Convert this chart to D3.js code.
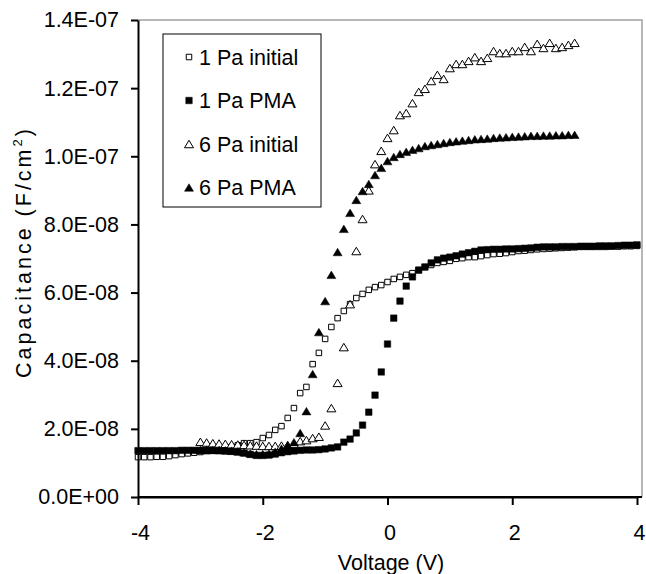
<!DOCTYPE html>
<html>
<head>
<meta charset="utf-8">
<script src="https://cdn.jsdelivr.net/npm/d3@7"></script>
<style>
  body { margin: 0; background: #fff; }
  svg { display: block; font-family: "Liberation Sans", Arial, sans-serif; }
</style>
</head>
<body>
<script>
// gate voltage sweep (V)
const voltsFull = [
  -4.0, -3.9, -3.8, -3.7, -3.6, -3.5, -3.4, -3.3, -3.2, -3.1,
  -3.0, -2.9, -2.8, -2.7, -2.6, -2.5, -2.4, -2.3, -2.2, -2.1,
  -2.0, -1.9, -1.8, -1.7, -1.6, -1.5, -1.4, -1.3, -1.2, -1.1,
  -1.0, -0.9, -0.8, -0.7, -0.6, -0.5, -0.4, -0.3, -0.2, -0.1,
  0.0, 0.1, 0.2, 0.3, 0.4, 0.5, 0.6, 0.7, 0.8, 0.9,
  1.0, 1.1, 1.2, 1.3, 1.4, 1.5, 1.6, 1.7, 1.8, 1.9,
  2.0, 2.1, 2.2, 2.3, 2.4, 2.5, 2.6, 2.7, 2.8, 2.9,
  3.0, 3.1, 3.2, 3.3, 3.4, 3.5, 3.6, 3.7, 3.8, 3.9,
  4.0
];
// the 6 Pa samples were only swept from -3 to 3 V
const volts6Pa = voltsFull.filter(v => v >= -3.001 && v <= 3.001);

// capacitance, in units of 1e-8 F/cm2
const cap1PaInitial = [
  1.17, 1.17, 1.17, 1.18, 1.18, 1.20, 1.23, 1.26, 1.28, 1.30,
  1.32, 1.35, 1.37, 1.40, 1.43, 1.47, 1.52, 1.58, 1.58, 1.61,
  1.73, 1.82, 1.97, 2.08, 2.32, 2.61, 3.05, 3.23, 3.90, 4.23,
  4.64, 4.99, 5.25, 5.46, 5.66, 5.84, 5.96, 6.08, 6.16, 6.22,
  6.31, 6.40, 6.46, 6.52, 6.57, 6.66, 6.75, 6.81, 6.87, 6.90,
  6.93, 6.99, 7.01, 7.04, 7.04, 7.07, 7.10, 7.13, 7.14, 7.16,
  7.19, 7.22, 7.23, 7.25, 7.27, 7.28, 7.29, 7.30, 7.31, 7.32,
  7.33, 7.34, 7.34, 7.34, 7.34, 7.34, 7.35, 7.35, 7.36, 7.36,
  7.37
];
const cap1PaPMA = [
  1.36, 1.36, 1.36, 1.36, 1.36, 1.36, 1.36, 1.37, 1.37, 1.37,
  1.37, 1.37, 1.37, 1.36, 1.35, 1.34, 1.32, 1.29, 1.25, 1.22,
  1.22, 1.23, 1.26, 1.30, 1.33, 1.35, 1.37, 1.38, 1.38, 1.39,
  1.41, 1.44, 1.47, 1.61, 1.70, 1.88, 2.11, 2.49, 2.99, 3.67,
  4.49, 5.25, 5.75, 6.19, 6.46, 6.66, 6.75, 6.87, 6.96, 7.01,
  7.04, 7.08, 7.13, 7.17, 7.21, 7.25, 7.26, 7.27, 7.27, 7.28,
  7.28, 7.29, 7.30, 7.31, 7.33, 7.34, 7.34, 7.34, 7.35, 7.35,
  7.35, 7.36, 7.36, 7.36, 7.37, 7.37, 7.37, 7.38, 7.39, 7.39,
  7.40
];
const cap6PaInitial = [
  1.62, 1.60, 1.58, 1.57, 1.56, 1.55, 1.54, 1.53, 1.52, 1.51,
  1.50, 1.50, 1.50, 1.51, 1.52, 1.56, 1.64, 1.67, 1.73, 1.77,
  2.10, 2.61, 3.35, 4.40, 5.66, 7.22, 8.16, 9.00, 9.77, 10.16,
  10.54, 10.77, 11.21, 11.27, 11.56, 11.89, 11.98, 12.21, 12.39, 12.27,
  12.59, 12.71, 12.71, 12.80, 12.91, 12.80, 12.89, 13.09, 13.03, 13.03,
  13.09, 13.09, 13.21, 13.09, 13.30, 13.18, 13.33, 13.18, 13.21, 13.27,
  13.33
];
const cap6PaPMA = [
  1.38, 1.38, 1.38, 1.38, 1.37, 1.36, 1.34, 1.31, 1.28, 1.26,
  1.26, 1.28, 1.33, 1.42, 1.52, 1.61, 1.88, 2.52, 3.61, 4.84,
  5.75, 6.52, 7.19, 7.87, 8.34, 8.72, 8.98, 9.19, 9.45, 9.66,
  9.86, 9.98, 10.07, 10.13, 10.19, 10.24, 10.30, 10.33, 10.36, 10.39,
  10.42, 10.44, 10.46, 10.48, 10.50, 10.51, 10.52, 10.54, 10.55, 10.56,
  10.57, 10.58, 10.59, 10.60, 10.60, 10.61, 10.61, 10.62, 10.62, 10.63,
  10.63
];
const capUnit = 1e-8;

const seriesNames = ['1 Pa initial', '1 Pa PMA', '6 Pa initial', '6 Pa PMA'];
const xTicks = [-4, -2, 0, 2, 4];
const yTicks = [0, 2e-8, 4e-8, 6e-8, 8e-8, 1e-7, 1.2e-7, 1.4e-7];

// series table (draw order = Excel series order)
const series = [
  { name: seriesNames[0], volts: voltsFull, caps: cap1PaInitial, shape: 'square', filled: false },
  { name: seriesNames[1], volts: voltsFull, caps: cap1PaPMA, shape: 'square', filled: true },
  { name: seriesNames[2], volts: volts6Pa, caps: cap6PaInitial, shape: 'triangle', filled: false },
  { name: seriesNames[3], volts: volts6Pa, caps: cap6PaPMA, shape: 'triangle', filled: true }
];

const W = 646, H = 574;
const plot = { left: 138, top: 20, right: 642, bottom: 497 };
const fontSize = 21.5;

const x = d3.scaleLinear().domain([-4, 4]).range([plot.left, 637]);
const y = d3.scaleLinear().domain([0, 1.4e-7]).range([plot.bottom, plot.top]);

const svg = d3.select('body').append('svg')
  .attr('width', W)
  .attr('height', H);

// marker shapes, roughly the Excel ones
function markerPath(shape, filled) {
  if (shape === 'square') {
    const s = filled ? 6.5 : 5.5;
    return d3.symbol(d3.symbolSquare, s * s)();
  }
  const w = 9, h = 7.5;
  return `M0,${-h / 2}L${w / 2},${h / 2}L${-w / 2},${h / 2}Z`;
}

// plot frame (grey top/right)
svg.append('path')
  .attr('d', `M${plot.left},${plot.top}H${plot.right}V${plot.bottom}`)
  .attr('fill', 'none')
  .attr('stroke', '#a0a0a0')
  .attr('stroke-width', 1.5);

// data
series.forEach(s => {
  const pts = s.volts.map((v, i) => ({ v: v, c: s.caps[i] * capUnit }));
  svg.append('g')
    .selectAll('path')
    .data(pts)
    .enter().append('path')
    .attr('d', markerPath(s.shape, s.filled))
    .attr('transform', d => `translate(${x(d.v)},${y(d.c)})`)
    .attr('fill', s.filled ? '#000' : '#fff')
    .attr('stroke', '#000')
    .attr('stroke-width', s.filled ? 0.5 : 1);
});

// E-notation like Excel: 1.4E-07
function sciFormat(v) {
  if (v === 0) return '0.0E+00';
  const e = Math.floor(Math.log10(Math.abs(v)) + 1e-9);
  const m = v / Math.pow(10, e);
  const sign = e < 0 ? '-' : '+';
  return m.toFixed(1) + 'E' + sign + String(Math.abs(e)).padStart(2, '0');
}

// y axis
const yAxis = svg.append('g')
  .attr('transform', `translate(${plot.left},0)`)
  .call(d3.axisLeft(y).tickValues(yTicks).tickFormat(sciFormat).tickSize(7).tickSizeOuter(0).tickPadding(12));

// x axis
const xAxis = svg.append('g')
  .attr('transform', `translate(0,${plot.bottom})`)
  .call(d3.axisBottom(x).tickValues(xTicks).tickFormat(d3.format('d')).tickSize(8).tickSizeOuter(0).tickPadding(20));

[yAxis, xAxis].forEach(g => {
  g.select('.domain').attr('stroke', '#000').attr('stroke-width', 2);
  g.selectAll('.tick line').attr('stroke', '#000').attr('stroke-width', 2);
  g.selectAll('.tick text')
    .attr('fill', '#000')
    .style('font-size', fontSize + 'px')
    .style('font-family', '"Liberation Sans", Arial, sans-serif');
});
xAxis.selectAll('.tick text').attr('dx', 2);
xAxis.selectAll('.tick text').text(d => d < 0 ? '-' + Math.abs(d) : d);

// bottom axis line runs to the plot edge
svg.append('line')
  .attr('x1', plot.left).attr('x2', plot.right)
  .attr('y1', plot.bottom).attr('y2', plot.bottom)
  .attr('stroke', '#000').attr('stroke-width', 2);

// axis titles
svg.append('text')
  .attr('x', 391)
  .attr('y', 570)
  .attr('text-anchor', 'middle')
  .style('font-size', fontSize + 'px')
  .text('Voltage (V)');

const yTitle = svg.append('text')
  .attr('transform', 'translate(31,252) rotate(-90)')
  .attr('text-anchor', 'middle')
  .style('font-size', fontSize + 'px')
  .style('letter-spacing', '3px');
yTitle.append('tspan').text('Capacitance (F/cm');
yTitle.append('tspan').attr('dy', -9).style('font-size', '13px').text('2');
yTitle.append('tspan').attr('dy', 9).text(')');

// legend
const legend = svg.append('g');
legend.append('rect')
  .attr('x', 163).attr('y', 34)
  .attr('width', 158).attr('height', 173)
  .attr('fill', '#fff')
  .attr('stroke', '#000')
  .attr('stroke-width', 1);

const rowY = d3.scalePoint().domain(seriesNames).range([57, 187.5]);
series.forEach(s => {
  const row = legend.append('g').attr('transform', `translate(189,${rowY(s.name)})`);
  row.append('path')
    .attr('d', markerPath(s.shape, s.filled))
    .attr('fill', s.filled ? '#000' : '#fff')
    .attr('stroke', '#000')
    .attr('stroke-width', s.filled ? 0.5 : 1);
  row.append('text')
    .attr('x', 10)
    .attr('dy', '0.35em')
    .style('font-size', fontSize + 'px')
    .text(s.name);
});
</script>
</body>
</html>
